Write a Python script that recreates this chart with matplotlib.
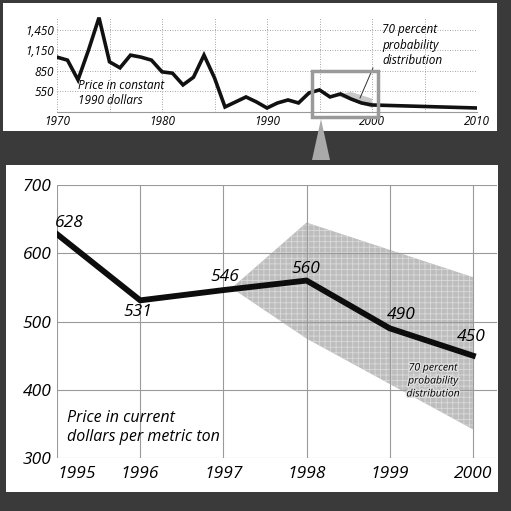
import os
import matplotlib
matplotlib.use("Agg")
import matplotlib.pyplot as plt
from matplotlib import font_manager
from matplotlib.font_manager import FontProperties
from matplotlib.patches import Rectangle, Polygon
import matplotlib.patheffects as pe

# long-run series, constant 1990 dollars
hist_years = [1970, 1971, 1972, 1973, 1974, 1975, 1976, 1977, 1978, 1979,
              1980, 1981, 1982, 1983, 1984, 1985, 1986, 1987, 1988, 1989,
              1990, 1991, 1992, 1993, 1994, 1995, 1996, 1997, 1998, 1999,
              2000, 2010]
hist_price = [1050, 1005, 710, 1155, 1640, 980, 890, 1080, 1050, 1005,
              830, 810, 635, 750, 1080, 740, 305, 380, 455, 380,
              290, 365, 410, 365, 515, 560, 455, 500, 425, 365,
              335, 290]
hist_band_years = [1996.5, 1998, 2000]
hist_band_upper = [480, 530, 430]
hist_band_lower = [480, 400, 290]
hist_yticks = [550, 850, 1150, 1450]
hist_yticklabels = ["550", "850", "1,150", "1,450"]
hist_xticks = [1970, 1980, 1990, 2000, 2010]

# zoomed series, current dollars per metric ton
years = [1995, 1996, 1997, 1998, 1999, 2000]
price = [628, 531, 546, 560, 490, 450]
band_years = [1997.1, 1998, 2000]
band_upper = [549, 645, 565]
band_lower = [549, 475, 342]
yticks = [300, 400, 500, 600, 700]

W = 511.0

# pick a plain italic face by its file name (Lato's italic file does not slant here)
SKIP = ["bold", "light", "thin", "medium", "semi", "black", "heavy", "extra", "hairline",
        "condensed", "narrow", "mono", "serif", "display"]
ITALIC_FILE = None
files = [f.fname for f in font_manager.fontManager.ttflist]
for key in ["opensans", "notosans", "liberationsans", "dejavusans"]:
    for path in files:
        base = os.path.basename(path).lower().replace("-", "").replace("_", "").replace(" ", "")
        if base.startswith(key) and ("italic" in base or "oblique" in base) \
                and not any(s in base for s in SKIP):
            ITALIC_FILE = path
            break
    if ITALIC_FILE:
        break


def fp(size):
    if ITALIC_FILE:
        return FontProperties(fname=ITALIC_FILE, size=size)
    return FontProperties(family="DejaVu Sans", style="oblique", size=size)


def fx(px):
    return px / W


def fy(py):
    return 1 - py / W


fig = plt.figure(figsize=(5.11, 5.11), dpi=100)
fig.patch.set_facecolor("#3a3a3a")

# white panels
fig.add_artist(Rectangle((fx(3), fy(131)), fx(494), 128 / W, transform=fig.transFigure,
                         facecolor="white", edgecolor="none", zorder=-2))
fig.add_artist(Rectangle((fx(6), fy(492)), fx(492), 327 / W, transform=fig.transFigure,
                         facecolor="white", edgecolor="none", zorder=-2))

# ---- top panel ----
ax1 = fig.add_axes([fx(57), fy(112), fx(420), 95 / W])
ax1.set_facecolor("none")
ax1.set_xlim(1970, 2010)
ax1.set_ylim(230, 1650)
ax1.fill_between(hist_band_years, hist_band_lower, hist_band_upper,
                 facecolor="#c8c8c8", edgecolor="none", zorder=1)
ax1.plot(hist_years, hist_price, color="#111111", lw=2.6, solid_joinstyle="miter", zorder=3)
ax1.set_xticks(hist_xticks)
ax1.set_xticks(range(1975, 2010, 10), minor=True)
ax1.set_xticklabels([str(y) for y in hist_xticks], fontproperties=fp(8.5))
ax1.set_yticks(hist_yticks)
ax1.set_yticklabels(hist_yticklabels, fontproperties=fp(8.5))
ax1.tick_params(which="both", length=0, pad=2)
ax1.grid(True, which="both", color="#888888", lw=0.6, ls=(0, (1, 2)))
for s in ["top", "right", "left"]:
    ax1.spines[s].set_visible(False)
ax1.spines["bottom"].set_color("#999999")
ax1.spines["bottom"].set_linewidth(0.8)

fig.text(fx(78), fy(93), "Price in constant\n1990 dollars", fontproperties=fp(8.5),
         va="center", ha="left", linespacing=1.15)
fig.text(fx(382), fy(45), "70 percent\nprobability\ndistribution", fontproperties=fp(8.5),
         va="center", ha="left", linespacing=1.2)
fig.add_artist(plt.Line2D([fx(373), fx(360)], [fy(68), fy(98)], transform=fig.transFigure,
                          color="#333333", lw=0.7))

# highlight box and pointer
fig.add_artist(Rectangle((fx(312), fy(117)), fx(66), 46 / W, transform=fig.transFigure,
                         facecolor="none", edgecolor="#9a9a9a", lw=2.5, zorder=4))
fig.add_artist(Polygon([(fx(321), fy(119)), (fx(312), fy(160)), (fx(330), fy(160))],
                       closed=True, transform=fig.transFigure,
                       facecolor="#aaaaaa", edgecolor="none", zorder=4))

# ---- main panel ----
ax2 = fig.add_axes([fx(57), fy(458), fx(440), 273 / W])
ax2.set_facecolor("none")
ax2.set_xlim(1995, 2000.29)
ax2.set_ylim(300, 700)
plt.rcParams["hatch.linewidth"] = 0.6
ax2.fill_between(band_years, band_lower, band_upper, facecolor="#bdbdbd",
                 edgecolor="#dadada", hatch="+++", lw=0, zorder=1)
ax2.plot(years, price, color="#0d0d0d", lw=4.2, solid_joinstyle="miter", zorder=3)

ax2.set_xticks(years)
xl = ax2.set_xticklabels([str(y) for y in years], fontproperties=fp(12.5))
xl[0].set_horizontalalignment("left")
ax2.set_yticks(yticks)
ax2.set_yticklabels([str(v) for v in yticks], fontproperties=fp(12.5))
ax2.tick_params(axis="x", length=0, pad=6)
ax2.tick_params(axis="y", length=0, pad=4)
ax2.grid(True, color="#9a9a9a", lw=0.8)
for s in ax2.spines.values():
    s.set_visible(False)

offsets = [(-2, 11, "left"), (-2, -12, "center"), (1, 13, "center"),
           (-1, 12, "center"), (12, 13, "center"), (-2, 19, "center")]
for x, v, (dx, dy, ha) in zip(years, price, offsets):
    ax2.annotate(str(v), (x, v), xytext=(dx, dy), textcoords="offset pixels",
                 ha=ha, va="center", fontproperties=fp(12.5), zorder=5)

fig.text(fx(67), fy(427), "Price in current\ndollars per metric ton", fontproperties=fp(11.5),
         va="center", ha="left", linespacing=1.25)
fig.text(fx(433), fy(381), "70 percent\nprobability\ndistribution", fontproperties=fp(7.5),
         va="center", ha="center", linespacing=1.25,
         path_effects=[pe.withStroke(linewidth=2, foreground="#e0e0e0")])

fig.savefig("out.png", dpi=100, facecolor=fig.get_facecolor())
